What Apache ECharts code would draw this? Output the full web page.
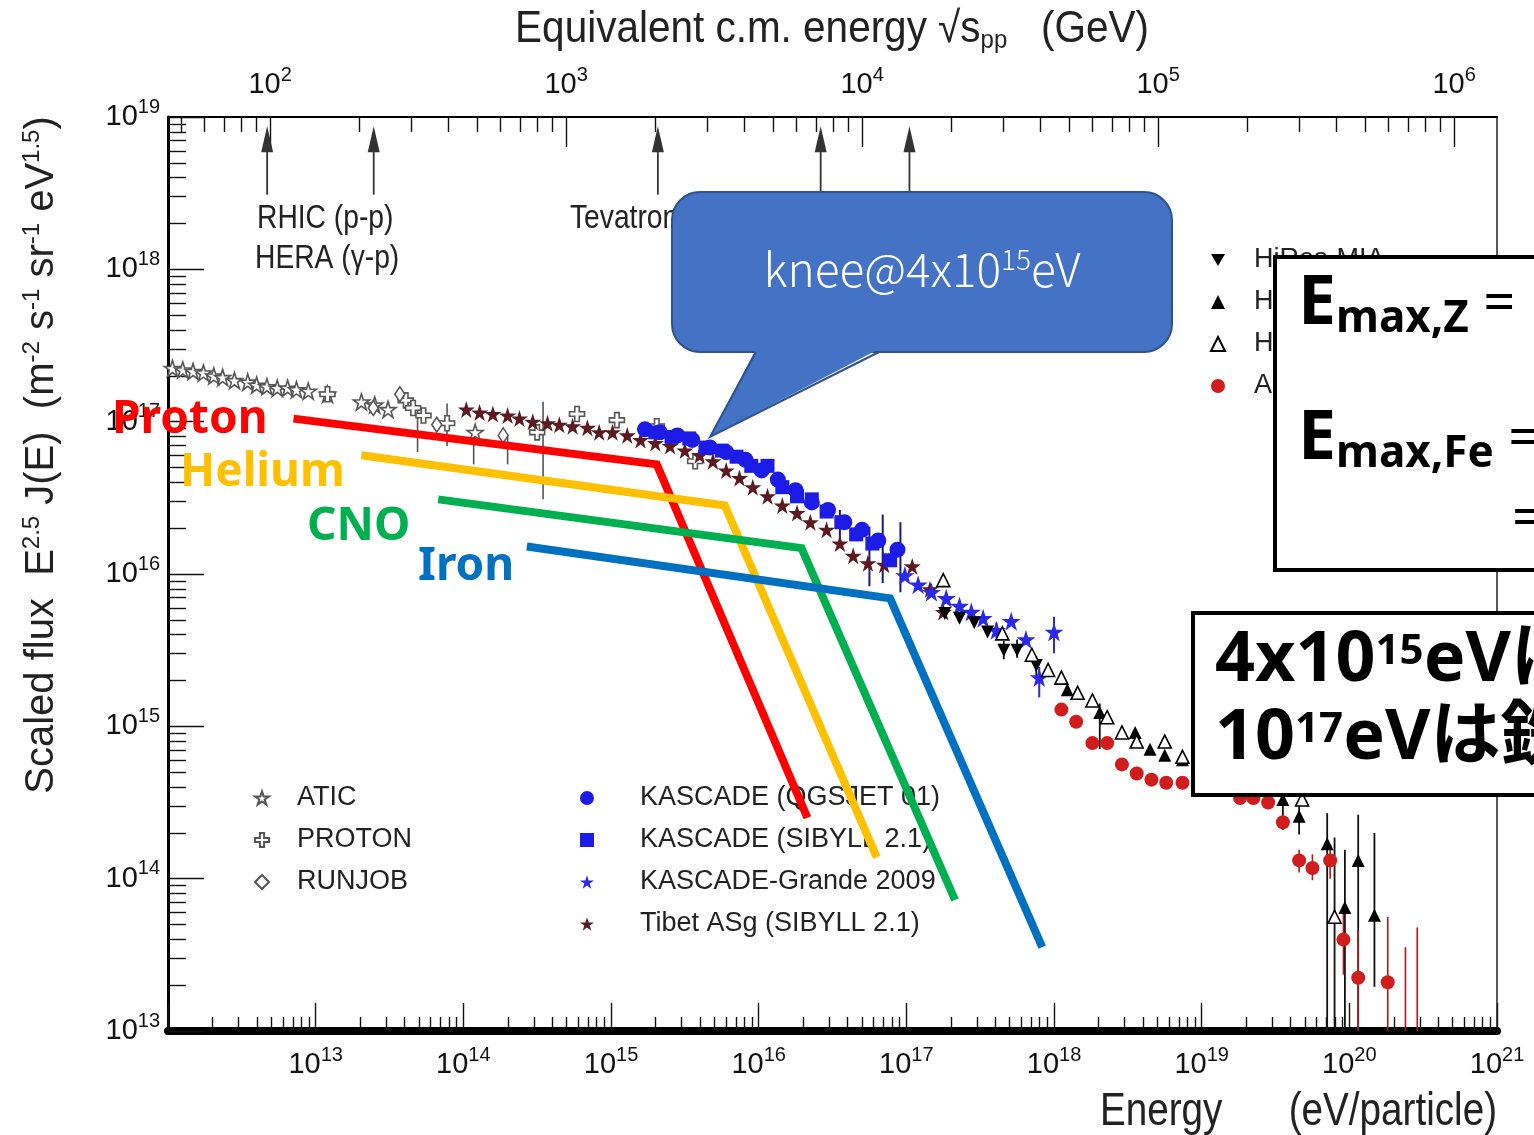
<!DOCTYPE html>
<html>
<head>
<meta charset="utf-8">
<title>Cosmic ray all-particle spectrum</title>
<script src="https://cdn.jsdelivr.net/npm/echarts@6.0.0/dist/echarts.min.js"></script>
<style>
  html, body { margin: 0; padding: 0; background: #fff; }
  #chart { width: 1534px; height: 1135px; }
</style>
</head>
<body>
<div id="chart"></div>
<script>
// every value is a log10: [log10(E / eV), log10(E^2.5 J(E))]
var atic = [[12.03,17.35],[12.10,17.34],[12.17,17.33],[12.24,17.32],[12.31,17.30],[12.37,17.29],[12.45,17.27],
  [12.54,17.26],[12.60,17.24],[12.67,17.23],[12.74,17.22],[12.81,17.22],[12.87,17.21],[12.95,17.20],[13.08,17.18],
  [13.31,17.13],[13.40,17.11],[13.49,17.08],[14.08,16.93]];
var protonExp = [[13.08,17.18],[13.61,17.14],[13.66,17.09],[13.73,17.04],[13.89,16.99],[14.50,16.93],[14.77,17.05],
  [15.04,17.01],[15.31,16.97],[15.57,16.74]];
var runjob = [[13.39,17.09],[13.57,17.18],[13.82,16.98],[14.27,16.91]];
var tibet = [[14.02,17.08],[14.11,17.06],[14.20,17.05],[14.30,17.04],[14.38,17.02],[14.47,17.00],[14.57,16.99],
  [14.65,16.98],[14.74,16.97],[14.84,16.96],[14.92,16.93],[15.01,16.93],[15.11,16.91],[15.20,16.88],[15.30,16.86],
  [15.40,16.84],[15.50,16.81],[15.60,16.78],[15.69,16.74],[15.78,16.68],[15.87,16.63],[15.96,16.57],[16.06,16.51],
  [16.16,16.45],[16.26,16.40],[16.35,16.34],[16.46,16.29],[16.55,16.20],[16.64,16.12],[16.74,16.07],[16.85,16.06],
  [17.04,16.05],[17.16,15.90],[17.25,15.75]];
var kascadeQgs = [[15.23,16.95],[15.33,16.93],[15.45,16.91],[15.55,16.88],[15.67,16.83],[15.78,16.80],[15.91,16.75],
  [16.02,16.68],[16.13,16.62],[16.25,16.55],[16.36,16.47],[16.47,16.42],[16.58,16.34],[16.70,16.29],[16.81,16.22],
  [16.94,16.16]];
var kascadeSib = [[15.30,16.93],[15.41,16.90],[15.53,16.89],[15.64,16.83],[15.75,16.81],[15.85,16.77],[15.95,16.71],
  [16.06,16.71],[16.16,16.57],[16.26,16.51],[16.36,16.49],[16.46,16.41],[16.56,16.34],[16.66,16.26],[16.77,16.20],
  [16.89,16.09]];
var grande = [[16.99,15.99],[17.08,15.93],[17.17,15.88],[17.27,15.84],[17.36,15.79],[17.44,15.75],[17.52,15.71],
  [17.61,15.63],[17.71,15.69],[17.81,15.57],[17.90,15.32],[18.00,15.62]];
var hiresMia = [[17.26,15.74],[17.36,15.71],[17.46,15.68],[17.55,15.62],[17.66,15.50],[17.75,15.50],[17.88,15.40]];
var hires1 = [[18.09,15.24],[18.31,15.09],[18.55,14.96],[18.65,14.85],[18.75,14.81],[18.87,14.78],[19.55,14.52],
  [19.66,14.41],[19.85,14.23],[19.97,13.81],[20.06,14.12],[20.17,13.76]];
var hires2 = [[17.25,15.96],[17.65,15.61],[17.85,15.47],[17.96,15.37],[18.05,15.32],[18.16,15.22],[18.26,15.17],
  [18.36,15.06],[18.46,14.96],[18.56,14.90],[18.75,14.90],[18.87,14.80],[19.68,14.52],[19.90,13.75]];
var agasa = [[18.05,15.11],[18.15,15.03],[18.26,14.89],[18.36,14.89],[18.46,14.75],[18.56,14.69],[18.66,14.65],
  [18.76,14.63],[18.87,14.63],[19.26,14.53],[19.35,14.53],[19.45,14.50],[19.55,14.37],[19.66,14.12],[19.75,14.07],
  [19.87,14.12],[19.96,13.60],[20.06,13.35],[20.26,13.32]];

// error bars: [log10 E, low, high]
var errGray = [[13.69,16.80,17.10],[13.89,16.84,17.12],[14.07,16.72,16.95],[14.30,16.72,16.90],[14.54,16.49,17.13]];
var errKascade = [[16.55,16.22,16.42],[16.75,15.92,16.31],[16.84,15.94,16.39],[16.96,15.88,16.34]];
var errGrande = [[17.61,15.58,15.68],[17.90,15.19,15.39],[18.00,15.48,15.72]];
var errHires = [[17.66,15.44,15.56],[17.75,15.45,15.57],[17.88,15.33,15.46],[18.31,14.85,15.15],[19.55,14.32,14.62],
  [19.66,14.29,14.52],[19.85,13.00,14.43],[19.90,13.00,14.27],[19.97,13.00,14.19],[20.06,13.00,14.42],[20.17,13.29,14.30]];
var errAgasa = [[19.66,14.04,14.19],[19.75,13.99,14.16],[19.87,14.00,14.22],[19.96,13.37,13.83],[20.06,13.00,13.66],
  [20.26,13.00,13.75],[20.38,13.00,13.55],[20.46,13.00,13.68]];

// knee model per element
var protonLine = [[12.85,17.02],[15.31,16.72],[16.33,14.40]];
var heliumLine = [[13.31,16.78],[15.77,16.45],[16.80,14.14]];
var cnoLine = [[13.83,16.49],[16.29,16.17],[17.33,13.86]];
var ironLine = [[14.43,16.18],[16.89,15.84],[17.92,13.55]];

// collider arrows on the sqrt(s) axis: [log10 sqrt(s)/GeV, arrow tail, arrow tip]
var colliders = [[1.99,18.49,18.94],[2.35,18.49,18.94],[3.31,18.49,18.94],[3.86,18.49,18.94],[4.16,18.49,18.94]];

// axes (log10 units)
var xRange = [12, 21];
var yRange = [13, 19];
var sRange = [1.655, 6.145];
var xLabels = [13, 14, 15, 16, 17, 18, 19, 20, 21];
var yLabels = [13, 14, 15, 16, 17, 18, 19];
var sLabels = [2, 3, 4, 5, 6];

var FONT = '"Liberation Sans", Arial, sans-serif';
var BOLD = '"Noto Sans", "Noto Sans CJK JP", sans-serif';

function decades(lo, hi) {
  var out = [];
  for (var n = Math.ceil(lo); n <= Math.floor(hi); n++) out.push(n);
  return out;
}
function minors(lo, hi) {
  var out = [];
  for (var n = Math.floor(lo); n <= Math.ceil(hi); n++) {
    for (var k = 2; k <= 9; k++) {
      var v = n + Math.log10(k);
      if (v > lo && v < hi) out.push(v);
    }
  }
  return out;
}
function powLabel(v) {
  return '{b|10}{s|' + Math.round(v) + '}';
}
var tickRich = {
  b: { fontSize: 29, lineHeight: 40, fontFamily: FONT, color: '#111' },
  s: { fontSize: 20, lineHeight: 12, verticalAlign: 'top', fontFamily: FONT, color: '#111' }
};

function axisX(range, pos, major, tickLen, lineW, labels, margin) {
  return {
    type: 'value', min: range[0], max: range[1], position: pos,
    axisLine: { show: lineW > 0, onZero: false, lineStyle: { color: '#000', width: lineW } },
    axisTick: { show: true, inside: true, length: tickLen, customValues: major,
      lineStyle: { color: '#111', width: 1.4 } },
    axisLabel: labels ? { customValues: labels, formatter: powLabel, margin: margin, rich: tickRich } : { show: false },
    splitLine: { show: false }
  };
}

var STAR = 'path://M50,0L61.2,34.5L97.6,34.5L68.2,55.9L79.4,90.5L50,69.1L20.6,90.5L31.8,55.9L2.4,34.5L38.8,34.5Z';
var CROSS = 'path://M35,0H65V35H100V65H65V100H35V65H0V35H35Z';
var DOWN = 'path://M0,0L100,0L50,87Z';

function scatter(name, data, symbol, size, fill, border, extra) {
  var s = {
    name: name, type: 'scatter', data: data, symbol: symbol, symbolSize: size, z: 3,
    itemStyle: { color: fill, borderColor: border || fill, borderWidth: border ? 1.6 : 0, opacity: 1 },
    emphasis: { disabled: true }
  };
  for (var k in extra || {}) s[k] = extra[k];
  return s;
}
function errors(data, color, width) {
  return {
    type: 'custom', data: data, z: 2, silent: true, clip: true,
    encode: { x: 0, y: [1, 2] },
    renderItem: function (params, api) {
      var a = api.coord([api.value(0), api.value(1)]);
      var b = api.coord([api.value(0), api.value(2)]);
      return { type: 'line', shape: { x1: a[0], y1: a[1], x2: b[0], y2: b[1] },
        style: { stroke: color, lineWidth: width } };
    }
  };
}
function knee(data, color) {
  return {
    type: 'line', data: data, z: 6, silent: true, showSymbol: false, symbol: 'none',
    lineStyle: { color: color, width: 8, cap: 'butt', join: 'miter' }
  };
}
function note(text, x, y, size, scaleX, align) {
  return { type: 'text', x: x, y: y, scaleX: scaleX, z: 10, style: {
    text: text, font: size + 'px ' + FONT, fill: '#222', align: align || 'left', verticalAlign: 'middle' } };
}
function legendBlock(names, left, top, gap) {
  return {
    data: names, left: left, top: top, orient: 'vertical', itemWidth: 14, itemHeight: 14, itemGap: 12,
    selectedMode: false,
    textStyle: { fontFamily: FONT, fontSize: 27, color: '#222', lineHeight: 30, padding: [0, 0, 0, gap] }
  };
}

var chart = echarts.init(document.getElementById('chart'), null, { renderer: 'canvas' });

var boxRich = {
  e: { fontSize: 68, lineHeight: 72, fontFamily: BOLD, fontWeight: 'bold', fill: '#000' },
  u: { fontSize: 44, lineHeight: 40, verticalAlign: 'bottom', fontFamily: BOLD, fontWeight: 'bold', fill: '#000' },
  q: { fontSize: 56, lineHeight: 72, fontFamily: BOLD, fill: '#000' }
};
var noteRich = {
  n: { fontSize: 70, lineHeight: 60, fontFamily: BOLD, fontWeight: 'bold', fill: '#000' },
  s: { fontSize: 42, lineHeight: 42, verticalAlign: 'top', fontFamily: BOLD, fontWeight: 'bold', fill: '#000' }
};

chart.setOption({
  animation: false,
  backgroundColor: '#fff',
  grid: { left: 168, right: 37, top: 117, bottom: 104, show: true, borderColor: '#222', borderWidth: 1.5,
    backgroundColor: '#fff' },
  xAxis: [
    axisX(xRange, 'bottom', decades(xRange[0], xRange[1]), 28, 8, xLabels, 14),
    axisX(xRange, 'bottom', minors(xRange[0], xRange[1]), 14, 0, null),
    axisX(sRange, 'top', decades(sRange[0], sRange[1]), 30, 2, sLabels, 12),
    axisX(sRange, 'top', minors(sRange[0], sRange[1]), 15, 0, null)
  ],
  yAxis: [
    {
      type: 'value', min: yRange[0], max: yRange[1], position: 'left',
      axisLine: { onZero: false, lineStyle: { color: '#000', width: 3 } },
      axisTick: { inside: true, length: 36, customValues: decades(yRange[0], yRange[1]),
        lineStyle: { color: '#111', width: 1.4 } },
      axisLabel: { customValues: yLabels, formatter: powLabel, margin: 8, rich: tickRich },
      splitLine: { show: false }
    },
    {
      type: 'value', min: yRange[0], max: yRange[1], position: 'left',
      axisLine: { show: false },
      axisTick: { inside: true, length: 18, customValues: minors(yRange[0], yRange[1]),
        lineStyle: { color: '#111', width: 1.4 } },
      axisLabel: { show: false },
      splitLine: { show: false }
    }
  ],
  legend: [
    legendBlock(['ATIC', 'PROTON', 'RUNJOB'], 249, 778, 23),
    legendBlock(['KASCADE (QGSJET 01)', 'KASCADE (SIBYLL 2.1)', 'KASCADE-Grande 2009', 'Tibet ASg (SIBYLL 2.1)'], 575, 778, 41),
    legendBlock([{ name: 'HiRes-MIA', icon: DOWN }, 'HiRes I', 'HiRes II', 'AGASA'], 1205, 240, 24)
  ],
  series: [
    errors(errGray, '#555', 1.6),
    errors(errKascade, '#1a1a70', 2),
    errors(errGrande, '#2a2ad8', 2),
    errors(errHires, '#111', 1.8),
    errors(errAgasa, '#b01818', 1.6),
    scatter('ATIC', atic, STAR, 16, '#fff', '#555'),
    scatter('PROTON', protonExp, CROSS, 15, '#fff', '#555'),
    scatter('RUNJOB', runjob, 'diamond', [10, 15], '#fff', '#555'),
    scatter('Tibet ASg (SIBYLL 2.1)', tibet, STAR, 17, '#5c1a20'),
    scatter('KASCADE (QGSJET 01)', kascadeQgs, 'circle', 16, '#1c1ce6'),
    scatter('KASCADE (SIBYLL 2.1)', kascadeSib, 'rect', 14, '#1c1ce6'),
    scatter('KASCADE-Grande 2009', grande, STAR, 19, '#2a2aee'),
    scatter('HiRes-MIA', hiresMia, 'triangle', 13, '#000', null, { symbolRotate: 180 }),
    scatter('HiRes I', hires1, 'triangle', 13, '#000'),
    scatter('HiRes II', hires2, 'triangle', 13, '#fff', '#000'),
    scatter('AGASA', agasa, 'circle', 14, '#d01c1c'),
    knee(protonLine, '#ff0000'),
    knee(heliumLine, '#ffc000'),
    knee(cnoLine, '#00b050'),
    knee(ironLine, '#0070c0'),
    {
      type: 'custom', xAxisIndex: 2, yAxisIndex: 0, data: colliders, z: 2, silent: true,
      encode: { x: 0, y: [1, 2] },
      renderItem: function (params, api) {
        var a = api.coord([api.value(0), api.value(1)]);
        var b = api.coord([api.value(0), api.value(2)]);
        return { type: 'group', children: [
          { type: 'line', shape: { x1: a[0], y1: a[1], x2: b[0], y2: b[1] + 20 },
            style: { stroke: '#333', lineWidth: 1.8 } },
          { type: 'polygon', shape: { points: [[b[0], b[1]], [b[0] - 6, b[1] + 26], [b[0] + 6, b[1] + 26]] },
            style: { fill: '#333' } }
        ] };
      }
    }
  ],
  graphic: [
    { type: 'text', x: 42, y: 455, rotation: Math.PI / 2, z: 10, style: {
      text: '{t|Scaled flux  E}{s|2.5}{t| J(E)  (m}{s|-2}{t| s}{s|-1}{t| sr}{s|-1}{t| eV}{s|1.5}{t|)}',
      align: 'center', verticalAlign: 'middle',
      rich: { t: { fontSize: 40, lineHeight: 44, fontFamily: FONT, fill: '#222' },
        s: { fontSize: 24, lineHeight: 16, verticalAlign: 'top', fontFamily: FONT, fill: '#222' } } } },
    { type: 'text', x: 832, y: 30, scaleX: 0.92, z: 10, style: {
      text: '{t|Equivalent c.m. energy \u221A}{t|s}{p|pp}{t|   (GeV)}',
      align: 'center', verticalAlign: 'middle',
      rich: { t: { fontSize: 44, lineHeight: 48, fontFamily: FONT, fill: '#222' },
        p: { fontSize: 26, lineHeight: 20, verticalAlign: 'bottom', fontFamily: FONT, fill: '#222' } } } },
    note('Energy', 1100, 1112, 46, 0.84),
    note('(eV/particle)', 1497, 1112, 46, 0.84, 'right'),
    note('RHIC (p-p)', 257, 219, 34, 0.83),
    note('HERA (\u03B3-p)', 255, 259, 34, 0.83),
    note('Tevatron', 570, 219, 34, 0.83),
    { type: 'text', x: 112, y: 420, z: 20, style: { text: 'Proton', font: 'bold 46px ' + BOLD, fill: '#ff0000', verticalAlign: 'middle' } },
    { type: 'text', x: 180, y: 473, z: 20, style: { text: 'Helium', font: 'bold 46px ' + BOLD, fill: '#ffc000', verticalAlign: 'middle' } },
    { type: 'text', x: 307, y: 527, z: 20, style: { text: 'CNO', font: 'bold 46px ' + BOLD, fill: '#00b050', verticalAlign: 'middle' } },
    { type: 'text', x: 418, y: 567, z: 20, style: { text: 'Iron', font: 'bold 46px ' + BOLD, fill: '#0070c0', verticalAlign: 'middle' } },
    // speech-bubble callout
    { type: 'rect', z: 50, shape: { x: 672, y: 192, width: 500, height: 160, r: 28 },
      style: { fill: '#4472c4', stroke: '#2f528f', lineWidth: 2 } },
    { type: 'polygon', z: 51, shape: { points: [[756, 349], [879, 349], [710, 437]] },
      style: { fill: '#4472c4' } },
    { type: 'polyline', z: 51, shape: { points: [[756, 352], [710, 437], [879, 352]] },
      style: { stroke: '#2f528f', lineWidth: 2, fill: null } },
    { type: 'text', x: 922, y: 270, z: 52, style: {
      text: '{n|knee@4x10}{s|15}{n|eV}', align: 'center', verticalAlign: 'middle',
      rich: { n: { fontSize: 46, lineHeight: 50, fontFamily: '"Noto Sans CJK JP"', fontWeight: 300, fill: '#fff' },
        s: { fontSize: 28, lineHeight: 28, verticalAlign: 'top', fontFamily: '"Noto Sans CJK JP"', fontWeight: 300, fill: '#fff' } } } },
    // overlay boxes
    { type: 'rect', z: 60, shape: { x: 1275, y: 257, width: 320, height: 313 },
      style: { fill: '#fff', stroke: '#000', lineWidth: 4 } },
    { type: 'text', x: 1298, y: 305, z: 61, style: { text: '{e|E}{u|max,Z}{q| =}', verticalAlign: 'middle', rich: boxRich } },
    { type: 'text', x: 1298, y: 440, z: 61, style: { text: '{e|E}{u|max,Fe}{q| =}', verticalAlign: 'middle', rich: boxRich } },
    { type: 'text', x: 1512, y: 520, z: 61, style: { text: '=', font: '56px ' + BOLD, fill: '#000', verticalAlign: 'middle' } },
    { type: 'rect', z: 60, shape: { x: 1193, y: 613, width: 400, height: 182 },
      style: { fill: '#fff', stroke: '#000', lineWidth: 4 } },
    { type: 'text', x: 1215, y: 661, z: 61, style: { text: '{n|4x10}{s|15}{n|eV\u306F}', verticalAlign: 'middle', rich: noteRich } },
    { type: 'text', x: 1215, y: 739, z: 61, style: { text: '{n|10}{s|17}{n|eV\u306F\u9244}', verticalAlign: 'middle', rich: noteRich } }
  ]
});

window.addEventListener('resize', function () { chart.resize(); });
</script>
</body>
</html>
